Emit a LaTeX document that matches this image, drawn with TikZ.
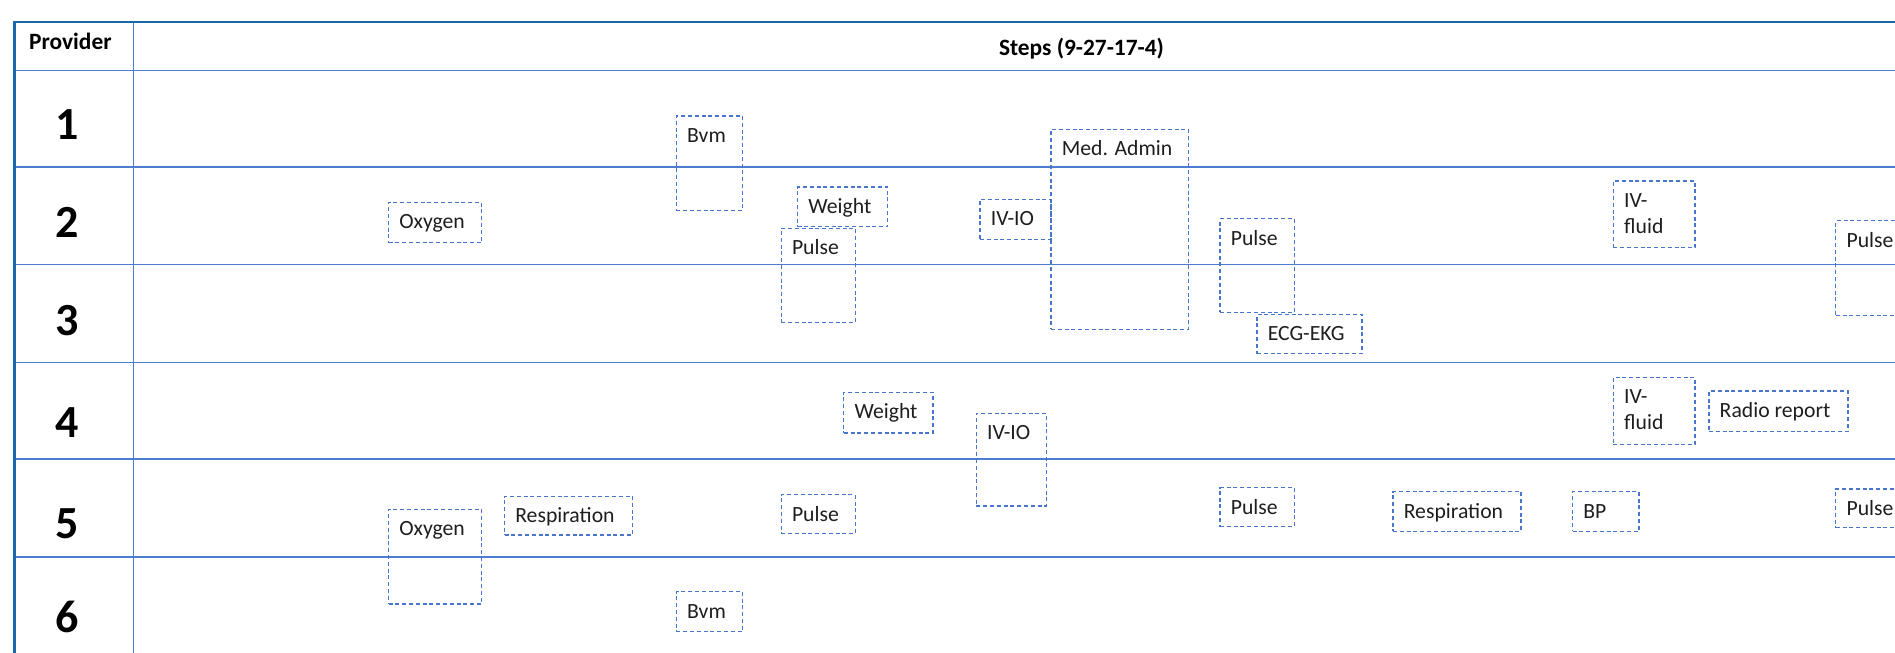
\documentclass[tikz,border=0pt]{standalone}
\usepackage{fontspec}
\setmainfont{Carlito}
\usetikzlibrary{fit}
\definecolor{outerblue}{RGB}{24,104,172}
\definecolor{gridblue}{RGB}{78,124,208}
\definecolor{boxblue}{RGB}{72,118,204}
\definecolor{txt}{RGB}{30,30,30}
\tikzset{
  outerline/.style={draw=outerblue, line width=1.3pt},
  gridline/.style={draw=gridblue, line width=0.85pt},
  dbox/.style={draw=boxblue, line width=0.6pt, dash pattern=on 2pt off 1.4pt, inner sep=0pt, rectangle},
  lbl/.style={font=\fontsize{10.85}{12.85}\selectfont, text=txt, inner sep=0pt, align=left},
  hdr/.style={font=\bfseries\fontsize{11.7}{14}\selectfont, text=black, inner sep=0pt},
  num/.style={font=\bfseries\fontsize{23}{27}\selectfont, text=black, inner sep=0pt},
}
\newcommand\stepitem[6]{%
  \node[dbox, fit={(#2,#3) (#4,#5)}] (#1) {};
  \node[lbl, anchor=base west] (#1-t) at ([xshift=5.5pt,yshift=-13.5pt]#1.north west) {#6};
}
\newcommand\stepitemtwo[7]{%
  \node[dbox, fit={(#2,#3) (#4,#5)}] (#1) {};
  \node[lbl, anchor=base west] (#1-t) at ([xshift=5.5pt,yshift=-13.5pt]#1.north west) {#6};
  \node[lbl, anchor=base west] (#1-u) at ([xshift=5.5pt,yshift=-26.35pt]#1.north west) {#7};
}
\begin{document}
\begin{tikzpicture}[x=0.5pt, y=-0.5pt]
\useasboundingbox (0,0) rectangle (1895,653);
\clip (0,0) rectangle (1895,653);
% grid
\coordinate (L) at (14.3,22);
\foreach \yy in {70.5,166.7,264.5,362.5,458.8,556.7}{
  \draw[gridline] (14.3,\yy) -- (1900,\yy);
}
\draw[gridline] (133.5,22) -- (133.5,660);
\draw[outerline] (14.3,660) -- (L) -- (1900,22);
% headers
\node[hdr, anchor=base] (prov) at (70.4,49.5) {Provider};
\node[hdr, anchor=base] (steps) at (1081.5,55) {Steps (9-27-17-4)};
% row numbers
\node[num] (n1) at (66.7,124.3) {1};
\node[num] (n2) at (66.7,222.5) {2};
\node[num] (n3) at (66.7,320.5) {3};
\node[num] (n4) at (66.7,423) {4};
\node[num] (n5) at (66.7,524) {5};
\node[num] (n6) at (66.7,616.5) {6};
% step boxes
\stepitem{oxyA}{388.6}{202.3}{481.6}{242.7}{Oxygen}
\stepitem{bvmA}{676.3}{116}{742.4}{210.3}{Bvm}
\stepitem{wtA}{797.6}{187}{887.8}{226.7}{Weight}
\stepitem{pulA}{781.2}{228.3}{855.1}{322.7}{Pulse}
\stepitem{ivioA}{980}{199.3}{1051}{239.3}{IV-IO}
\stepitem{med}{1051}{129.3}{1188.2}{329.3}{Med. Admin}
\stepitem{pulB}{1220}{218.7}{1294.2}{312.3}{Pulse}
\stepitem{ecg}{1257}{314.3}{1362}{353.7}{ECG-EKG}
\stepitemtwo{ivfA}{1613.4}{181}{1695}{247.7}{IV-}{fluid}
\stepitem{pulC}{1835.8}{220.7}{1910}{315.3}{Pulse}
\stepitem{wtB}{843.7}{392.3}{933}{433}{Weight}
\stepitem{ivioB}{976.3}{413.3}{1046.5}{506}{IV-IO}
\stepitemtwo{ivfB}{1613.4}{377.3}{1695}{444.7}{IV-}{fluid}
\stepitem{radio}{1708.9}{391}{1848}{431.7}{Radio report}
\stepitem{oxyB}{388.6}{509.3}{481.6}{604}{Oxygen}
\stepitem{respA}{504.5}{496.3}{632.7}{535}{Respiration}
\stepitem{pulD}{781.2}{494.7}{855.1}{533.7}{Pulse}
\stepitem{pulE}{1220}{487.7}{1294.2}{526.7}{Pulse}
\stepitem{respB}{1393}{491.7}{1521}{531.3}{Respiration}
\stepitem{bp}{1572.5}{491.7}{1639}{531.3}{BP}
\stepitem{pulF}{1835.8}{489}{1910}{527.7}{Pulse}
\stepitem{bvmB}{676.3}{591.7}{742.4}{631.7}{Bvm}
\end{tikzpicture}
\end{document}
